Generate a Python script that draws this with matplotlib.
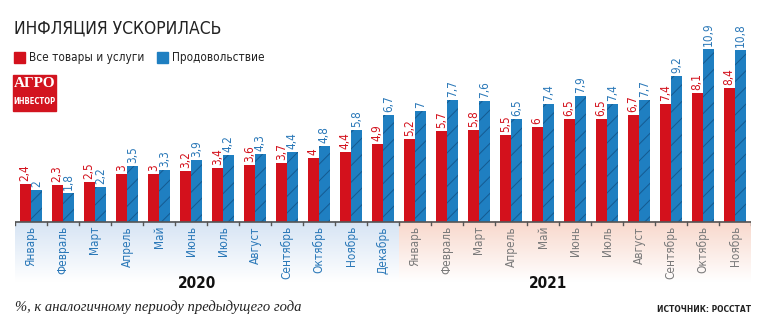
import numpy as np
import matplotlib.pyplot as plt
import matplotlib.patches as mpatches
from matplotlib.colors import LinearSegmentedColormap

months = ["Январь", "Февраль", "Март", "Апрель", "Май", "Июнь", "Июль",
          "Август", "Сентябрь", "Октябрь", "Ноябрь", "Декабрь",
          "Январь", "Февраль", "Март", "Апрель", "Май", "Июнь", "Июль",
          "Август", "Сентябрь", "Октябрь", "Ноябрь"]
years = ["2020", "2021"]
months_2020 = 12
all_goods = [2.4, 2.3, 2.5, 3, 3, 3.2, 3.4, 3.6, 3.7, 4, 4.4, 4.9,
             5.2, 5.7, 5.8, 5.5, 6, 6.5, 6.5, 6.7, 7.4, 8.1, 8.4]
food = [2, 1.8, 2.2, 3.5, 3.3, 3.9, 4.2, 4.3, 4.4, 4.8, 5.8, 6.7,
        7, 7.7, 7.6, 6.5, 7.4, 7.9, 7.4, 7.7, 9.2, 10.9, 10.8]

RED = "#d3111c"
BLUE = "#1f7fc1"
HATCH = "#155a90"
BLUE_TXT = "#2a78b8"
GRAY_TXT = "#7a7a7a"

plt.rcParams["font.family"] = ["DejaVu Sans"]
plt.rcParams["font.stretch"] = "condensed"
plt.rcParams["hatch.linewidth"] = 0.7

W, H = 765, 335
fig = plt.figure(figsize=(W / 100, H / 100), dpi=100)

# axes in pixel terms: baseline at y=222, 15.9 px per percent
x0, x1 = 15, 751
base, top, bottom = 222, 30, 290
ppu = 15.9
ax = fig.add_axes([x0 / W, (H - bottom) / H, (x1 - x0) / W, (bottom - top) / H])
n = len(months)
ax.axis("off")

# gradient bands under the axis for each year
band = (282 - base) / ppu
grad = np.linspace(1, 0, 64).reshape(-1, 1)
cm_blue = LinearSegmentedColormap.from_list("b", ["#ffffff", "#d6e4f4"])
cm_pink = LinearSegmentedColormap.from_list("p", ["#ffffff", "#f8d8cc"])
ax.imshow(grad, cmap=cm_blue, aspect="auto", zorder=0,
          extent=(-0.5, months_2020 - 0.5, -band, 0))
ax.imshow(grad, cmap=cm_pink, aspect="auto", zorder=0,
          extent=(months_2020 - 0.5, n - 0.5, -band, 0))
ax.set_xlim(-0.5, n - 0.5)
ax.set_ylim(-(bottom - base) / ppu, (base - top) / ppu)

x = np.arange(n)
bw = 0.35
ax.bar(x - 0.18, all_goods, bw, color=RED, zorder=2)
# hatch takes the edge colour; edge itself hidden with linewidth 0
ax.bar(x + 0.17, food, bw, facecolor=BLUE, hatch="//", edgecolor=HATCH,
       linewidth=0, zorder=2)

pad = 3 / ppu
for i in range(n):
    ax.text(x[i] - 0.18, all_goods[i] + pad, f"{all_goods[i]:g}".replace(".", ","),
            rotation=90, ha="center", va="bottom", color=RED, fontsize=8.5)
    ax.text(x[i] + 0.17, food[i] + pad, f"{food[i]:g}".replace(".", ","),
            rotation=90, ha="center", va="bottom", color=BLUE_TXT, fontsize=8.5)
    ax.text(x[i], -4 / ppu, months[i], rotation=90, ha="center", va="top",
            color=BLUE_TXT if i < months_2020 else GRAY_TXT, fontsize=8.5)

# baseline and ticks
ax.plot([-0.5, n - 0.5], [0, 0], color="#555555", lw=1.2, zorder=3)
for b in np.arange(-0.5, n, 1.0):
    ax.plot([b, b], [0, -3 / ppu], color="#555555", lw=1, zorder=3)

ax.text(5.2, -(283 - base) / ppu, years[0], ha="center", va="center",
        fontsize=11, fontweight="bold", color="#111111")
ax.text(16.15, -(283 - base) / ppu, years[1], ha="center", va="center",
        fontsize=11, fontweight="bold", color="#111111")

# title, legend, logo
fig.text(14 / W, 1 - 28 / H, "ИНФЛЯЦИЯ УСКОРИЛАСЬ", fontsize=12.5,
         color="#222222", va="center", ha="left")
fig.patches.append(mpatches.Rectangle((14 / W, 1 - 63 / H), 11 / W, 11 / H,
                                      transform=fig.transFigure, color=RED))
fig.text(29 / W, 1 - 57 / H, "Все товары и услуги", fontsize=8.5,
         color="#222222", va="center")
fig.patches.append(mpatches.Rectangle((157 / W, 1 - 63 / H), 11 / W, 11 / H,
                                      transform=fig.transFigure, color=BLUE))
fig.text(172 / W, 1 - 57 / H, "Продовольствие", fontsize=8.5,
         color="#222222", va="center")

fig.patches.append(mpatches.Rectangle((13 / W, 1 - 111 / H), 43 / W, 36 / H,
                                      transform=fig.transFigure, color="#d2141f"))
fig.text(34.5 / W, 1 - 84 / H, "АГРО", fontsize=11, fontweight="bold",
         color="white", ha="center", va="center", family="Liberation Serif")
fig.text(34.5 / W, 1 - 102 / H, "ИНВЕСТОР", fontsize=5.5, fontweight="bold",
         color="white", ha="center", va="center")

# footer
fig.text(15 / W, 1 - 307 / H, "%, к аналогичному периоду предыдущего года",
         fontsize=10.5, style="italic", family="Liberation Serif",
         color="#222222", va="center")
fig.text(751 / W, 1 - 309 / H, "ИСТОЧНИК: РОССТАТ", fontsize=6,
         fontweight="bold", color="#222222", ha="right", va="center")

fig.savefig("out.png", dpi=100)
